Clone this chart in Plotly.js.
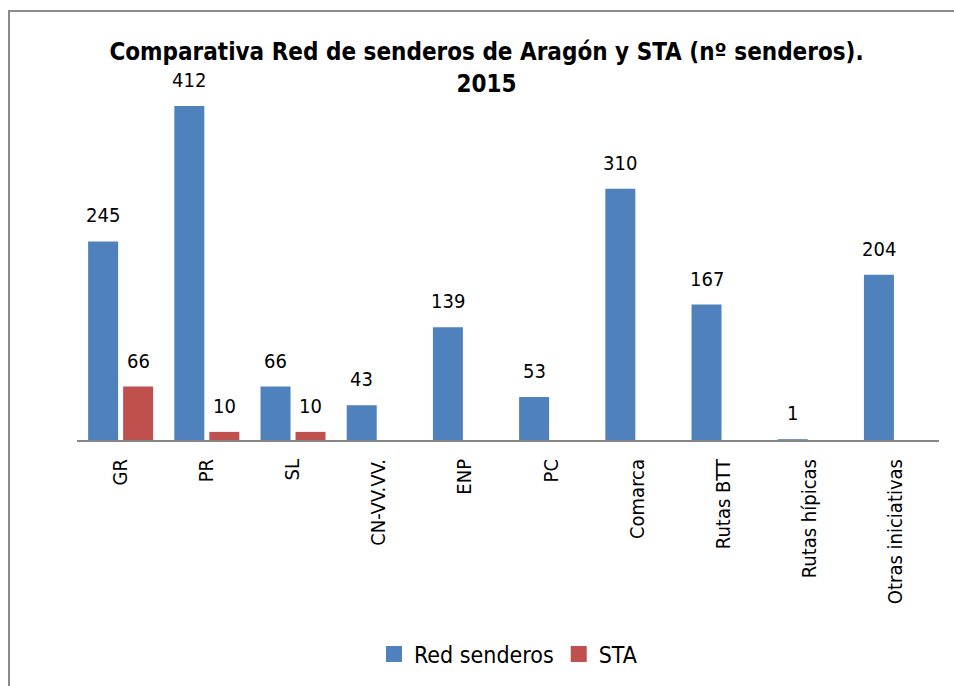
<!DOCTYPE html>
<html>
<head>
<meta charset="utf-8">
<script src="https://cdn.plot.ly/plotly-3.0.1.min.js"></script>
<style>
body{margin:0;background:#fff;}
#frame{position:absolute;left:8px;top:10px;width:960px;height:700px;border-left:2px solid #8a8a8a;border-top:2px solid #8a8a8a;pointer-events:none;}
#chart{position:absolute;left:0;top:0;width:954px;height:686px;}
</style>
</head>
<body>
<div id="chart"></div>
<div id="frame"></div>
<script>
const categories = ["GR","PR","SL","CN-VV.VV.","ENP","PC","Comarca","Rutas BTT","Rutas hípicas","Otras iniciativas"];
const redSenderos = [245,412,66,43,139,53,310,167,1,204];
const sta = [66,10,10,null,null,null,null,null,null,null];
const seriesNames = ["Red senderos","STA"];
const colors = ['#4F81BD', '#C0504D'];

const FONT = "Liberation Sans Narrow, DejaVu Sans Condensed, Liberation Sans, sans-serif";
const W = 0.348;
const offsets = [-0.371, 0.035];

const idx = categories.map((c,i)=>i);
const traces = [redSenderos, sta].map((vals, s) => ({
  type: 'bar',
  name: seriesNames[s],
  x: idx,
  y: vals,
  width: W,
  offset: offsets[s],
  marker: {color: colors[s], line:{width:0}},
  showlegend: false,
  hoverinfo: 'none'
}));
// legend entries with square swatches
seriesNames.forEach((n, s) => {
  traces.push({
    type: 'scatter', mode: 'markers', name: n,
    x: [null], y: [null],
    marker: {symbol: 'square', size: 16, color: colors[s]},
    showlegend: true, hoverinfo: 'none'
  });
});

const annotations = [];
[redSenderos, sta].forEach((vals, s) => {
  vals.forEach((v, i) => {
    if (v === null) return;
    annotations.push({
      x: i + offsets[s] + W/2, y: v, xref: 'x', yref: 'y',
      text: String(v), showarrow: false, yanchor: 'bottom', yshift: 12,
      font: {family: FONT, size: 20, color: '#000'}
    });
  });
});

const layout = {
  width: 954, height: 686,
  margin: {l: 77, r: 15, t: 59, b: 245},
  paper_bgcolor: '#fff', plot_bgcolor: '#fff',
  title: {
    text: '<b>Comparativa Red de senderos de Aragón y STA (nº senderos).<br>2015</b>',
    font: {family: FONT, size: 24, color: '#000'},
    x: 0.51, xanchor: 'center', y: 0.912, yanchor: 'top', yref: 'container'
  },
  barmode: 'group',
  showlegend: true,
  legend: {
    orientation: 'h', x: 0.5, xanchor: 'center', y: -0.558, yanchor: 'middle',
    font: {family: FONT, size: 23, color: '#000'}, itemwidth: 30, traceorder: 'normal'
  },
  xaxis: {
    tickmode: 'array', tickvals: idx, ticktext: categories,
    range: [-0.5, 9.5], tickangle: -90,
    showline: true, linecolor: '#868686', linewidth: 2,
    ticks: 'outside', ticklen: 9, tickcolor: 'rgba(0,0,0,0)',
    tickfont: {family: FONT, size: 20, color: '#000'},
    showgrid: false, zeroline: false, fixedrange: true
  },
  yaxis: {
    range: [0, 470], visible: false, showgrid: false, zeroline: false, fixedrange: true
  },
  annotations: annotations
};

Plotly.newPlot('chart', traces, layout, {displayModeBar: false, staticPlot: true});
</script>
</body>
</html>
